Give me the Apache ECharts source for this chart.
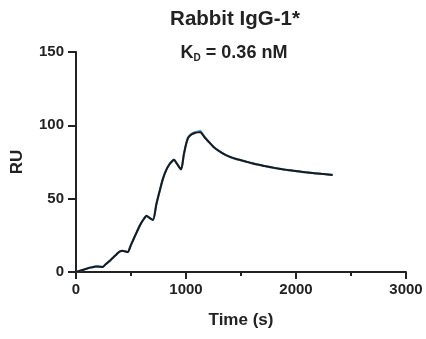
<!DOCTYPE html>
<html><head><meta charset="utf-8">
<script src="https://cdn.jsdelivr.net/npm/echarts@6/dist/echarts.min.js"></script>
<style>html,body{margin:0;padding:0;background:#fff}#c{width:426px;height:339px}</style>
</head><body><div id="c"></div>
<script>
// Time (s)
const times = [0,30,60,90,120,150,180,200,230,240,270,300,330,360,380,400,420,450,470,500,530,560,590,620,640,670,700,730,760,790,820,850,880,890,920,955,980,1000,1020,1050,1080,1110,1130,1150,1175,1200,1250,1300,1350,1400,1450,1500,1550,1600,1650,1700,1750,1800,1850,1900,1950,2000,2050,2100,2150,2200,2250,2333];
// Fit (black)
const fitRU = [0,0.7,1.4,2.1,2.8,3.3,3.8,3.7,3.5,3.4,5.3,7.2,9.3,11.4,12.9,14.0,14.5,14.0,13.6,18.5,23.5,28.5,33,36.5,38.3,36.8,35.5,46,55,63.5,69.5,73.5,76,76.5,73.5,70,80,87,91.5,93.8,94.8,95.2,95.3,93.8,91.3,89.3,85.3,82.5,80.2,78.5,77.2,76.2,75.2,74.2,73.3,72.5,71.7,71,70.4,69.8,69.3,68.8,68.3,67.9,67.5,67.1,66.8,66.2];
// Measured (blue)
const dataRU = [0,0.7,1.4,2.1,2.8,3.3,3.8,3.7,3.5,3.4,5.3,7.2,9.3,11.4,12.9,14.0,14.5,14.0,13.6,18.5,23.5,28.5,33,36.5,38.3,36.8,35.5,46,55,63.5,69.5,73.5,76,76.5,73.5,70,80,87,91.8,94.2,95.3,95.8,96.2,94.1,91.5,89.4,85.4,82.5,80.2,78.5,77.2,76.2,75.2,74.2,73.3,72.5,71.7,71,70.4,69.8,69.3,68.8,68.3,67.9,67.5,67.1,66.8,66.2];
const xTicks = [0,1000,2000,3000];
const yTicks = [0,50,100,150];

const chart = echarts.init(document.getElementById('c'));
const axisCol = '#222';
const fontFam = '"Liberation Sans", Arial, sans-serif';
chart.setOption({
  animation:false,
  title:[
    {text:'Rabbit IgG-1*', left:230, top:4, textAlign:'center',
     textStyle:{fontFamily:fontFam, fontWeight:'bold', fontSize:20.5, color:'#222'}},
    {text:'{k|K}{d|D}{k| = 0.36 nM}', left:229, top:38, textAlign:'center',
     textStyle:{rich:{
       k:{fontFamily:fontFam, fontWeight:'bold', fontSize:18, color:'#222'},
       d:{fontFamily:fontFam, fontWeight:'bold', fontSize:10, color:'#222', verticalAlign:'bottom', padding:[10,0,0,0]}
     }}}
  ],
  grid:{left:76, right:20, top:52, bottom:67, containLabel:false},
  xAxis:{type:'value', min:0, max:3000, interval:1000,
    name:'Time (s)', nameLocation:'middle', nameGap:40,
    nameTextStyle:{fontFamily:fontFam, fontWeight:'bold', fontSize:17, color:'#222'},
    axisLine:{lineStyle:{color:axisCol, width:2}},
    axisTick:{show:true, length:7, lineStyle:{color:axisCol, width:2}},
    minorTick:{show:true, splitNumber:2, length:4, lineStyle:{color:axisCol, width:2}},
    splitLine:{show:false},
    axisLabel:{fontFamily:fontFam, fontWeight:'bold', fontSize:15, color:'#222', margin:10,
      formatter:v=>xTicks.includes(v)?String(v):''}
  },
  yAxis:{type:'value', min:0, max:150, interval:50,
    name:'RU', nameLocation:'middle', nameGap:50, nameRotate:90,
    nameTextStyle:{fontFamily:fontFam, fontWeight:'bold', fontSize:17, color:'#222'},
    axisLine:{show:true, lineStyle:{color:axisCol, width:2}},
    axisTick:{show:true, length:8, lineStyle:{color:axisCol, width:2}},
    splitLine:{show:false},
    axisLabel:{fontFamily:fontFam, fontWeight:'bold', fontSize:15, color:'#222', margin:12,
      formatter:v=>yTicks.includes(v)?String(v):''}
  },
  series:[
    {type:'line', data:times.map((t,i)=>[t,dataRU[i]]), showSymbol:false, smooth:0.25,
     lineStyle:{color:'#5b9bd5', width:2.2}, z:2},
    {type:'line', data:times.map((t,i)=>[t,fitRU[i]]), showSymbol:false, smooth:0.25,
     lineStyle:{color:'#1a1a1a', width:2}, z:3}
  ]
});
</script></body></html>
